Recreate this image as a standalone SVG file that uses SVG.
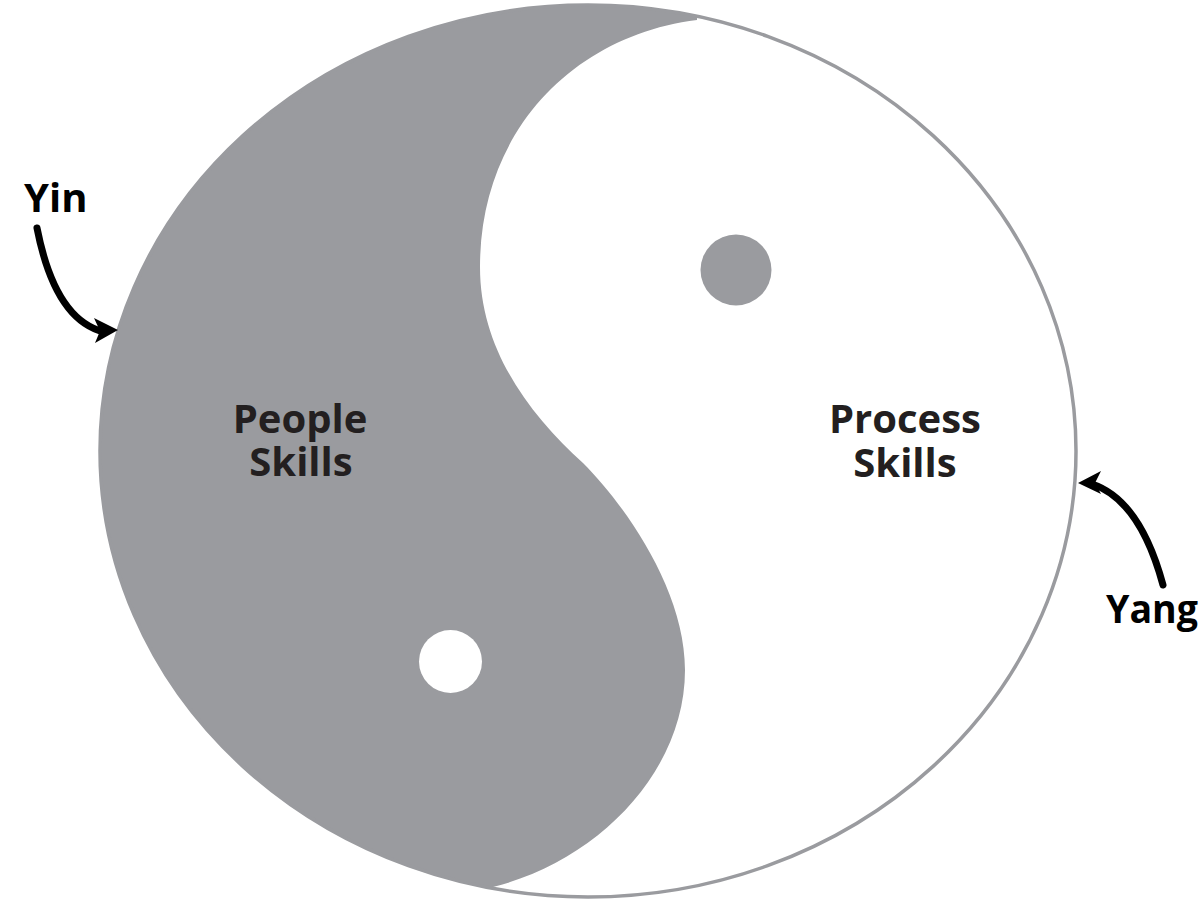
<svg xmlns="http://www.w3.org/2000/svg" width="1201" height="906" viewBox="0 0 1201 906">
  <style>
    .lbl { font-family: "Open Sans", "Liberation Sans", sans-serif; font-weight: bold; fill: #231f20; }
    .big { font-size: 40px; }
    .side { font-size: 40px; fill: #000; }
    .arrow { fill: none; stroke: #000; stroke-width: 7; stroke-linecap: round; }
  </style>
  <defs>
    <clipPath id="ellClip">
      <ellipse cx="588" cy="451" rx="488" ry="446"/>
    </clipPath>
  </defs>
  <rect width="1201" height="906" fill="#fff"/>
  <g id="yinyang">
    <ellipse cx="588" cy="451" rx="488" ry="446" fill="#fff"/>
    <path clip-path="url(#ellClip)" fill="#9a9b9f" d="M697,-20 L697,20 C575,35 480,130 480,267 C480,350 530,415 583,463 C625,505 685,590 685,670 C685,770 600,860 493,887 L493,930 L40,930 L40,-20 Z"/>
    <ellipse cx="588" cy="451" rx="488" ry="446" fill="none" stroke="#9a9b9f" stroke-width="3.5"/>
  </g>
  <g id="yang-dot"><circle cx="736" cy="270" r="35.5" fill="#9a9b9f"/></g>
  <g id="yin-dot"><circle cx="450.5" cy="661.5" r="31.5" fill="#fff"/></g>
  <g id="people"><text class="lbl big" text-anchor="middle" x="300" y="433">People</text><text class="lbl big" text-anchor="middle" x="301" y="476">Skills</text></g>
  <g id="process"><text class="lbl big" text-anchor="middle" x="905" y="433">Process</text><text class="lbl big" text-anchor="middle" x="905" y="477">Skills</text></g>
  <g id="yin"><text class="lbl side" x="24" y="212">Yin</text></g>
  <g id="yang"><text class="lbl side" x="1106" y="623" textLength="92" lengthAdjust="spacingAndGlyphs">Yang</text></g>
  <g id="connectors">
    <path class="arrow" d="M37,228 Q55,320 104,332"/>
    <polygon points="118,330 94,318 100,331 95,343" fill="#000"/>
    <path class="arrow" d="M1163,585 Q1140,500 1092,484"/>
    <polygon points="1078,483 1101,471 1095,483 1101,494" fill="#000"/>
  </g>
</svg>
